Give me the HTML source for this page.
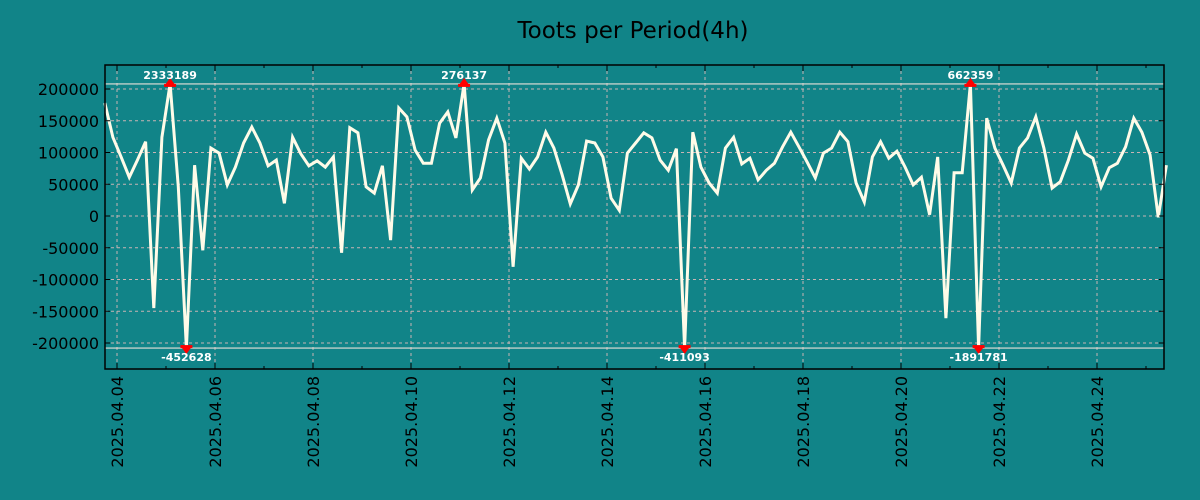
<!DOCTYPE html>
<html><head><meta charset="utf-8"><style>
html,body{margin:0;padding:0;background:#118488;}
svg{display:block;font-family:"DejaVu Sans","Liberation Sans",sans-serif;}
</style></head><body>
<svg id="chart" width="1200" height="500" viewBox="0 0 1200 500" xmlns="http://www.w3.org/2000/svg">
<rect x="0" y="0" width="1200" height="500" fill="#118488"/>
<text x="633" y="38" text-anchor="middle" font-size="23" fill="#000">Toots per Period(4h)</text>
<g id="grid"></g><g id="series"></g><g id="marks"></g><g id="axes"></g>
</svg>
<script>
const values = [178000,124000,93000,61000,88000,117000,-145000,124000,2333189,46000,-452628,80000,-54000,107000,99000,49000,77000,115000,140000,115000,79000,88000,20000,124000,98000,79000,87000,77000,93000,-58000,139000,131000,46000,36000,79000,-38000,170000,156000,104000,83000,83000,146000,164000,123000,276137,41000,60000,120000,154000,115000,-80000,91000,74000,93000,132000,107000,65000,19000,49000,118000,115000,93000,28000,9000,99000,115000,131000,123000,88000,72000,106000,-411093,132000,77000,52000,36000,107000,124000,82000,91000,57000,72000,83000,109000,132000,109000,85000,60000,99000,107000,132000,117000,52000,22000,93000,117000,91000,102000,77000,49000,61000,2000,93000,-161000,68000,68000,662359,-1891781,154000,107000,80000,52000,107000,123000,156000,107000,44000,54000,88000,129000,99000,91000,46000,76000,83000,109000,154000,132000,96000,-2000,80000];
const startHour = -6;   // hours from 2025-04-04 00:00
const periodHours = 4;
const yTicks = [-200000,-150000,-100000,-50000,0,50000,100000,150000,200000];
const xTickLabels = ["2025.04.04","2025.04.06","2025.04.08","2025.04.10","2025.04.12","2025.04.14","2025.04.16","2025.04.18","2025.04.20","2025.04.22","2025.04.24"];
const clipLimit = 208000;

const NS="http://www.w3.org/2000/svg";
const L=105,R=1164,T=65,B=369;
function xScale(h){return 117 + h*(49/24);}
function yScale(v){return 216 - v*127/200000;}
function mk(tag,attrs,parent){const e=document.createElementNS(NS,tag);for(const k in attrs)e.setAttribute(k,attrs[k]);parent.appendChild(e);return e;}
const grid=document.getElementById('grid'),ser=document.getElementById('series'),marks=document.getElementById('marks'),axes=document.getElementById('axes');

yTicks.forEach(v=>{
  const y=yScale(v);
  const g=mk('line',{x1:L,x2:R,y1:y,y2:y,stroke:'#c8b4b4','stroke-width':1,'stroke-dasharray':'3,3'},grid);
  
  
  mk('line',{x1:L,x2:L+5,y1:y,y2:y,stroke:'#000'},axes);
  mk('line',{x1:R-5,x2:R,y1:y,y2:y,stroke:'#000'},axes);
  const t=mk('text',{x:99,y:y+6,'text-anchor':'end','font-size':16,fill:'#000'},axes);
  t.textContent=v;
  
  
});
xTickLabels.forEach((lab,i)=>{
  const x=xScale(i*48);
  const g=mk('line',{x1:x,x2:x,y1:T,y2:B,stroke:'#c8b4b4','stroke-width':1,'stroke-dasharray':'3,3'},grid);
  
  
  mk('line',{x1:x,x2:x,y1:B-6,y2:B,stroke:'#000'},axes);
  mk('line',{x1:x,x2:x,y1:T,y2:T+6,stroke:'#000'},axes);
  const xm=xScale(i*48+24);
  mk('line',{x1:xm,x2:xm,y1:B-3,y2:B,stroke:'#000'},axes);
  mk('line',{x1:xm,x2:xm,y1:T,y2:T+3,stroke:'#000'},axes);
  const t=mk('text',{x:0,y:0,'text-anchor':'end','font-size':16,fill:'#000',transform:`translate(${x+6},376) rotate(-90)`},axes);
  t.textContent=lab;
  
  
});
const fr=mk('rect',{x:L,y:T,width:R-L,height:B-T,fill:'none',stroke:'#000','stroke-width':1.5},axes);



[clipLimit,-clipLimit].forEach(c=>{
  const l=mk('line',{x1:L,x2:R,y1:yScale(c),y2:yScale(c),stroke:'#e8e0d8','stroke-width':1.2},grid);
  
  
});

const pts=values.map((v,i)=>{const cv=Math.max(-clipLimit,Math.min(clipLimit,v));return [xScale(startHour+i*periodHours),yScale(cv)];});
const path=mk('polyline',{points:pts.map(p=>p[0].toFixed(1)+','+p[1].toFixed(1)).join(' '),fill:'none',stroke:'#fffbe8','stroke-width':3,'stroke-linejoin':'miter'},ser);



values.forEach((v,i)=>{
  if(Math.abs(v)<=clipLimit)return;
  const x=xScale(startHour+i*periodHours);
  const up=v>0, y=yScale(up?clipLimit:-clipLimit);
  const tri=mk('path',{d:up?`M${x-5},${y+1}L${x},${y-6}L${x+5},${y+1}Z`:`M${x-5},${y-1}L${x},${y+6}L${x+5},${y-1}Z`,fill:'#ff0000'},marks);
  
  
  mk('rect',{x:x-6,y:up?y:y-3,width:12,height:3,fill:'#ff0000'},marks);
  const t=mk('text',{x:x,y:up?y-5:y+13,'text-anchor':'middle','font-size':11,'font-weight':'bold',fill:'#fff'},marks);
  t.textContent=v;
  
  
});
</script>
</body></html>
